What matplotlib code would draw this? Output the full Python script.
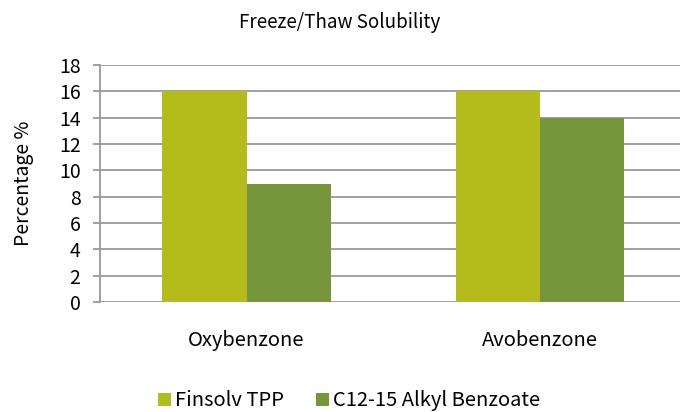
import matplotlib.pyplot as plt
import numpy as np

plt.rcParams['font.family'] = ['Noto Sans CJK KR', 'DejaVu Sans']

categories = ['Oxybenzone', 'Avobenzone']
series_names = ['Finsolv TPP', 'C12-15 Alkyl Benzoate']
finsolv = [16, 16]
alkyl = [9, 14]
colors = ['#B3BB1D', '#77963C']

fig = plt.figure(figsize=(6.8, 4.12), dpi=100)
ax = fig.add_axes([0.147, 0.267, 0.853, 0.575])

x = np.arange(len(categories))
w = 0.287
ax.bar(x - w / 2, finsolv, w, color=colors[0], label=series_names[0], zorder=3)
ax.bar(x + w / 2, alkyl, w, color=colors[1], label=series_names[1], zorder=3)

ax.set_xlim(-0.5, 1.478)
ax.set_ylim(0, 18)
ax.set_yticks(range(0, 19, 2))
ax.yaxis.grid(True, color='#999999', linewidth=1.3, zorder=0)
ax.tick_params(axis='y', length=5, width=1.3, color='#999999', labelsize=14, pad=9)
ax.tick_params(axis='x', length=0, labelsize=14.5, pad=20)
ax.set_xticks(x)
ax.set_xticklabels(categories)
for s in ['top', 'right', 'bottom']:
    ax.spines[s].set_visible(False)
ax.spines['left'].set_color('#999999')
ax.spines['left'].set_linewidth(1.3)

ax.set_ylabel('Percentage %', fontsize=14, labelpad=18)
fig.text(0.5, 0.945, 'Freeze/Thaw Solubility', ha='center', va='center', fontsize=13.5)

fig.legend(loc='center', bbox_to_anchor=(0.513, 0.027), ncol=2, frameon=False,
           fontsize=14.5, handlelength=0.65, handleheight=0.65, handletextpad=0.2,
           columnspacing=1.6)

fig.savefig('out.png', dpi=100)
